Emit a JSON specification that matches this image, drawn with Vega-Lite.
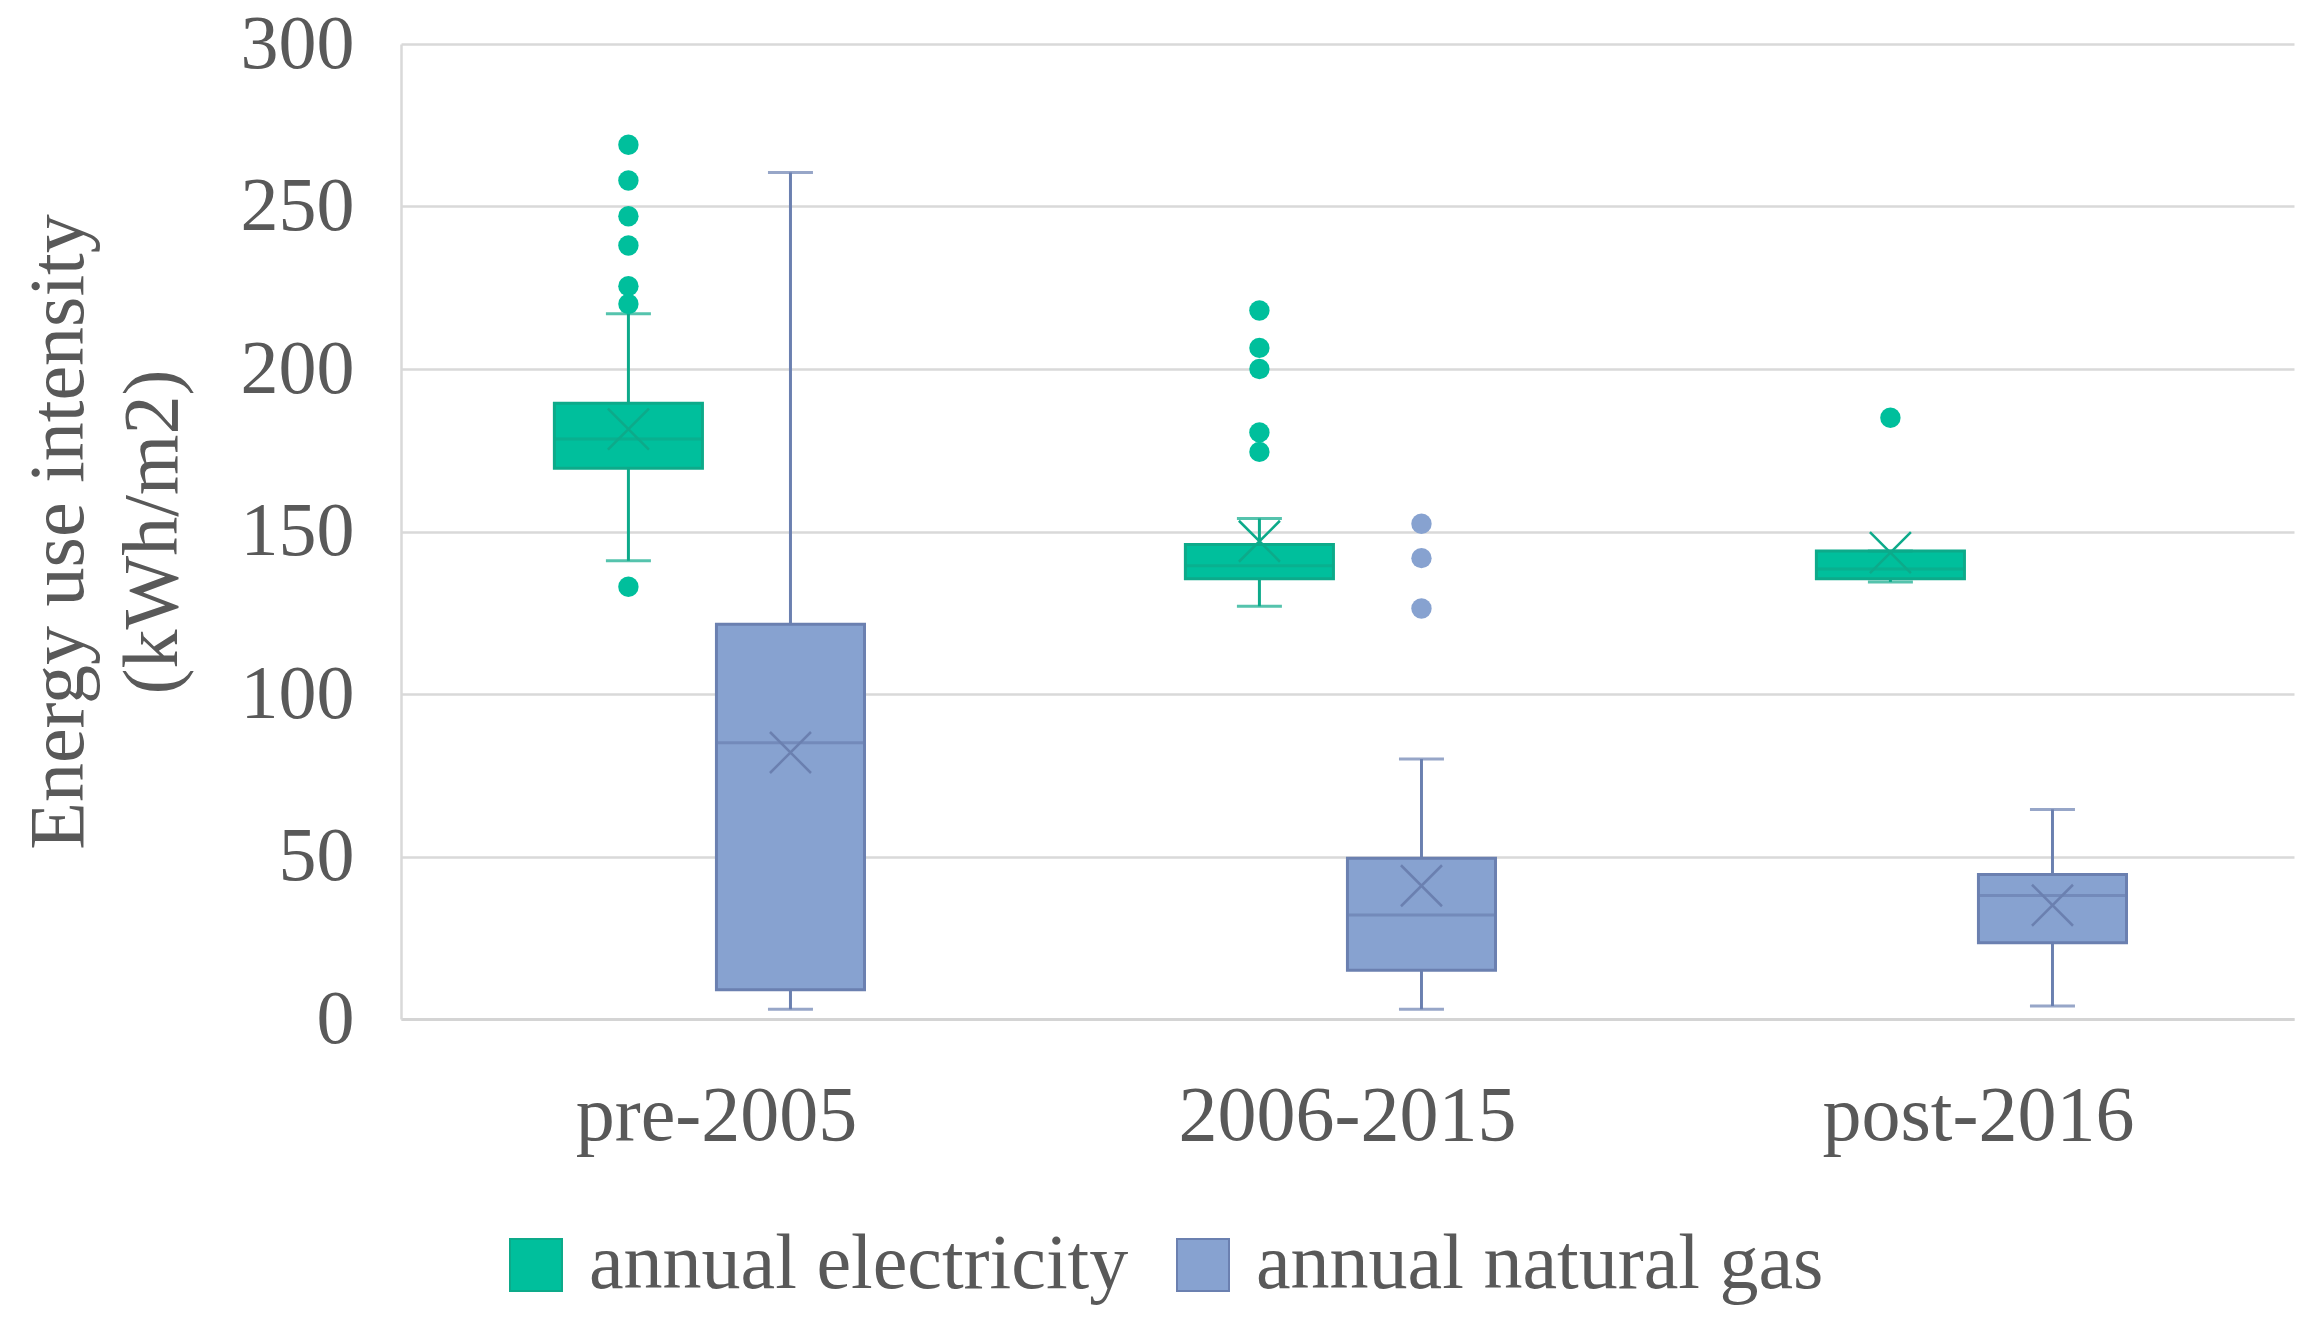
{
  "$schema": "https://vega.github.io/schema/vega-lite/v6.json",
  "width": 1893,
  "height": 975,
  "autosize": "none",
  "padding": {"left": 401, "top": 44, "right": 19, "bottom": 308},
  "background": "white",
  "config": {
    "font": "Liberation Serif",
    "view": {"stroke": null},
    "axis": {
      "labelFont": "Liberation Serif",
      "titleFont": "Liberation Serif",
      "labelColor": "#595959",
      "titleColor": "#595959",
      "labelFontSize": 76,
      "titleFontSize": 78,
      "titleFontWeight": "normal",
      "labelLimit": 2000,
      "ticks": false,
      "domainColor": "#D9D9D9",
      "gridColor": "#D9D9D9"
    }
  },
  "datasets": {
    "boxes": [
      {"period": "pre-2005", "series": "annual electricity", "lower": 141, "q1": 169.5, "median": 178.5, "q3": 189.5, "upper": 217, "mean": 181.5},
      {"period": "pre-2005", "series": "annual natural gas", "lower": 3, "q1": 9, "median": 85, "q3": 121.5, "upper": 260.5, "mean": 82},
      {"period": "2006-2015", "series": "annual electricity", "lower": 127, "q1": 135.5, "median": 139.5, "q3": 146, "upper": 154, "mean": 147},
      {"period": "2006-2015", "series": "annual natural gas", "lower": 3, "q1": 15, "median": 32, "q3": 49.5, "upper": 80, "mean": 41},
      {"period": "post-2016", "series": "annual electricity", "lower": 134.5, "q1": 135.5, "median": 138.5, "q3": 144, "upper": 144, "mean": 143.5},
      {"period": "post-2016", "series": "annual natural gas", "lower": 4, "q1": 23.5, "median": 38, "q3": 44.5, "upper": 64.5, "mean": 35}
    ],
    "outliers": [
      {"period": "pre-2005", "series": "annual electricity", "value": 269},
      {"period": "pre-2005", "series": "annual electricity", "value": 258},
      {"period": "pre-2005", "series": "annual electricity", "value": 247},
      {"period": "pre-2005", "series": "annual electricity", "value": 238},
      {"period": "pre-2005", "series": "annual electricity", "value": 225.5},
      {"period": "pre-2005", "series": "annual electricity", "value": 220},
      {"period": "pre-2005", "series": "annual electricity", "value": 133},
      {"period": "2006-2015", "series": "annual electricity", "value": 218},
      {"period": "2006-2015", "series": "annual electricity", "value": 206.5},
      {"period": "2006-2015", "series": "annual electricity", "value": 200},
      {"period": "2006-2015", "series": "annual electricity", "value": 180.5},
      {"period": "2006-2015", "series": "annual electricity", "value": 174.5},
      {"period": "2006-2015", "series": "annual natural gas", "value": 152.4},
      {"period": "2006-2015", "series": "annual natural gas", "value": 141.8},
      {"period": "2006-2015", "series": "annual natural gas", "value": 126.3},
      {"period": "post-2016", "series": "annual electricity", "value": 185}
    ]
  },
  "encoding": {
    "x": {
      "field": "period",
      "type": "nominal",
      "sort": ["pre-2005", "2006-2015", "post-2016"],
      "scale": {"paddingInner": 0, "paddingOuter": 0},
      "axis": {"title": null, "labelAngle": 0, "labelFontSize": 78, "labelPadding": 58, "labelBaseline": "top", "domainColor": "#D4D4D4", "domainWidth": 3, "grid": false}
    },
    "xOffset": {
      "field": "series",
      "type": "nominal",
      "sort": ["annual electricity", "annual natural gas"],
      "scale": {"paddingInner": 0.0864, "paddingOuter": 0.99, "align": 0.478}
    }
  },
  "layer": [
    {
      "data": {"name": "boxes"},
      "mark": {"type": "rule", "strokeWidth": 3},
      "encoding": {
        "y": {"field": "lower", "type": "quantitative", "scale": {"domain": [0, 300], "nice": false},
          "title": ["Energy use intensity", "(kWh/m2)"],
          "axis": {"values": [0, 50, 100, 150, 200, 250, 300], "gridWidth": 2.5, "domainWidth": 2.5, "labelPadding": 47, "titleAngle": -90, "titleX": -342, "titleY": 487.5, "titleAlign": "center", "titleBaseline": "middle", "titleLineHeight": 94}},
        "y2": {"field": "upper"},
        "stroke": {"field": "series", "type": "nominal", "scale": {"domain": ["annual electricity", "annual natural gas"], "range": ["#0DAA8A", "#6B80B0"]},
          "legend": {"orient": "none", "legendX": 96, "legendY": 1182, "direction": "horizontal", "title": null, "symbolType": "square", "symbolSize": 2704, "symbolStrokeWidth": 2, "labelFont": "Liberation Serif", "labelFontSize": 78, "labelColor": "#595959", "labelOffset": 14, "labelLimit": 2000, "columnPadding": 35, "padding": 0}}
      }
    },
    {
      "data": {"name": "boxes"},
      "mark": {"type": "bar", "strokeWidth": 3},
      "encoding": {
        "y": {"field": "q1", "type": "quantitative", "title": ["Energy use intensity", "(kWh/m2)"]},
        "y2": {"field": "q3"},
        "fill": {"field": "series", "type": "nominal", "scale": {"domain": ["annual electricity", "annual natural gas"], "range": ["#00BF9C", "#87A2D0"]},
          "legend": {"orient": "none", "legendX": 96, "legendY": 1182, "direction": "horizontal", "title": null, "symbolType": "square", "symbolSize": 2704, "symbolStrokeWidth": 2, "labelFont": "Liberation Serif", "labelFontSize": 78, "labelColor": "#595959", "labelOffset": 14, "labelLimit": 2000, "columnPadding": 35, "padding": 0}},
        "stroke": {"field": "series", "type": "nominal"}
      }
    },
    {
      "data": {"name": "boxes"},
      "mark": {"type": "tick", "thickness": 1, "size": 146, "filled": false, "strokeWidth": 2},
      "encoding": {
        "y": {"field": "median", "type": "quantitative", "title": ["Energy use intensity", "(kWh/m2)"]},
        "stroke": {"field": "series", "type": "nominal"}
      }
    },
    {
      "data": {"name": "boxes"},
      "mark": {"type": "tick", "thickness": 1, "size": 43, "filled": false, "strokeWidth": 2},
      "encoding": {
        "y": {"field": "upper", "type": "quantitative", "title": ["Energy use intensity", "(kWh/m2)"]},
        "stroke": {"field": "series", "type": "nominal"}
      }
    },
    {
      "data": {"name": "boxes"},
      "mark": {"type": "tick", "thickness": 1, "size": 43, "filled": false, "strokeWidth": 2},
      "encoding": {
        "y": {"field": "lower", "type": "quantitative", "title": ["Energy use intensity", "(kWh/m2)"]},
        "stroke": {"field": "series", "type": "nominal"}
      }
    },
    {
      "data": {"name": "boxes"},
      "mark": {"type": "point", "shape": "M-1,-1L1,1M-1,1L1,-1", "filled": false, "size": 1681, "strokeWidth": 2.5, "opacity": 1},
      "encoding": {
        "y": {"field": "mean", "type": "quantitative", "title": ["Energy use intensity", "(kWh/m2)"]},
        "stroke": {"field": "series", "type": "nominal"}
      }
    },
    {
      "data": {"name": "outliers"},
      "mark": {"type": "point", "shape": "circle", "filled": true, "size": 415, "opacity": 1, "strokeWidth": 0},
      "encoding": {
        "y": {"field": "value", "type": "quantitative", "title": ["Energy use intensity", "(kWh/m2)"]},
        "fill": {"field": "series", "type": "nominal"}
      }
    }
  ]
}
